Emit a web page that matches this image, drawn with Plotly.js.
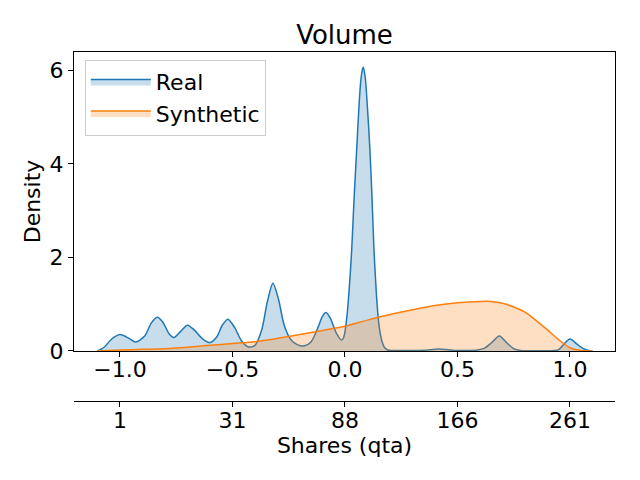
<!DOCTYPE html>
<html>
<head>
<meta charset="utf-8">
<script src="https://cdn.plot.ly/plotly-3.0.1.min.js"></script>
<style>html,body{margin:0;padding:0;background:#fff;}#chart{width:640px;height:480px;}</style>
</head>
<body>
<div id="chart"></div>
<script>
// Real KDE
const realX = [-1.10,-1.07,-1.04,-1.00,-0.96,-0.93,-0.89,-0.86,-0.834,-0.81,-0.78,-0.76,-0.73,-0.70,-0.67,-0.63,-0.60,-0.57,-0.545,-0.52,-0.49,-0.46,-0.43,-0.40,-0.37,-0.345,-0.32,-0.295,-0.27,-0.24,-0.21,-0.18,-0.15,-0.12,-0.10,-0.084,-0.065,-0.04,-0.015,-0.005,0.01,0.02,0.03,0.04,0.052,0.062,0.072,0.081,0.09,0.10,0.111,0.12,0.129,0.14,0.15,0.163,0.175,0.19,0.21,0.25,0.30,0.35,0.40,0.42,0.45,0.50,0.55,0.59,0.62,0.65,0.686,0.72,0.75,0.78,0.82,0.88,0.93,0.95,0.97,1.00,1.035,1.06,1.09,1.10];
const realY = [0.00,0.08,0.24,0.35,0.27,0.19,0.32,0.60,0.72,0.62,0.36,0.29,0.42,0.55,0.45,0.25,0.18,0.30,0.55,0.68,0.50,0.22,0.09,0.12,0.45,1.05,1.45,1.10,0.55,0.24,0.13,0.11,0.20,0.50,0.74,0.82,0.70,0.40,0.235,0.30,0.80,1.40,2.16,3.20,4.29,5.20,5.85,6.07,5.85,5.20,4.29,3.30,2.16,1.20,0.60,0.235,0.08,0.02,0.01,0.01,0.01,0.015,0.035,0.04,0.03,0.01,0.01,0.02,0.06,0.17,0.32,0.17,0.05,0.01,0.005,0.005,0.01,0.03,0.13,0.255,0.13,0.05,0.005,0.00];
// Synthetic KDE
const synX = [-1.10,-1.05,-1.00,-0.90,-0.80,-0.70,-0.60,-0.50,-0.40,-0.30,-0.20,-0.10,0.00,0.10,0.20,0.30,0.40,0.50,0.60,0.65,0.70,0.75,0.80,0.85,0.90,0.95,1.00,1.05,1.10];
const synY = [0.00,0.01,0.02,0.035,0.05,0.08,0.12,0.16,0.20,0.27,0.35,0.44,0.53,0.66,0.78,0.88,0.97,1.03,1.06,1.06,1.02,0.94,0.83,0.65,0.45,0.24,0.07,0.01,0.00];
// ticks
const xTickVals = [-1.0,-0.5,0.0,0.5,1.0];
const xTickText = ["\u22121.0","\u22120.5","0.0","0.5","1.0"];
const x2TickText = ["1","31","88","166","261"];
const yTickVals = [0,2,4,6];

const font = "DejaVu Sans, sans-serif";
const traces = [
  {x: realX, y: realY, type: 'scatter', mode: 'lines', name: 'Real', fill: 'tozeroy',
   line: {color: '#1f77b4', width: 1.5, shape: 'spline', smoothing: 0.8},
   fillcolor: 'rgba(31,119,180,0.25)', hoverinfo: 'skip'},
  {x: synX, y: synY, type: 'scatter', mode: 'lines', name: 'Synthetic', fill: 'tozeroy',
   line: {color: '#ff7f0e', width: 1.5, shape: 'spline', smoothing: 0.8},
   fillcolor: 'rgba(255,127,14,0.25)', hoverinfo: 'skip'},
  {x: [xTickVals[0], xTickVals[4]], y: [0, 0], xaxis: 'x2', type: 'scatter', mode: 'markers',
   marker: {opacity: 0}, showlegend: false, hoverinfo: 'skip'}
];
const layout = {
  width: 640, height: 480,
  margin: {l: 74, r: 25, t: 52, b: 79},
  paper_bgcolor: '#fff', plot_bgcolor: '#fff',
  font: {family: font, size: 22, color: '#000'},
  title: {text: 'Volume', font: {family: font, size: 26, color: '#000'}, x: 0.5, xref: 'paper', y: 0.927, yref: 'container', yanchor: 'middle'},
  showlegend: true,
  legend: {x: 0.02, y: 0.978, xanchor: 'left', yanchor: 'top', bgcolor: 'rgba(255,255,255,0.8)',
           bordercolor: '#cccccc', borderwidth: 1, font: {family: font, size: 22}, itemwidth: 60,
           tracegroupgap: 0},
  xaxis: {range: [-1.204, 1.2], anchor: 'y', showgrid: false, zeroline: false, showline: true, mirror: true,
          linecolor: '#000', linewidth: 1, ticks: 'outside', ticklen: 5, tickcolor: '#000',
          tickmode: 'array', tickvals: xTickVals, ticktext: xTickText, tickfont: {size: 22},
          ticklabelstandoff: -6},
  xaxis2: {range: [-1.204, 1.2], overlaying: 'x', anchor: 'free', position: 0, side: 'bottom',
           showgrid: false, zeroline: false, showline: true, linecolor: '#000', linewidth: 1,
           ticks: 'outside', ticklen: 5, tickcolor: '#000', tickmode: 'array', tickvals: xTickVals,
           ticktext: x2TickText, tickfont: {size: 22}, ticklabelstandoff: -5,
           title: {text: 'Shares (qta)', font: {size: 22}, standoff: 2}},
  yaxis: {domain: [0.1433, 1], range: [0, 6.39], showgrid: false, zeroline: false, showline: true, mirror: true,
          linecolor: '#000', linewidth: 1, ticks: 'outside', ticklen: 5, tickcolor: '#000',
          tickmode: 'array', tickvals: yTickVals, tickfont: {size: 22},
          title: {text: 'Density', font: {size: 22}, standoff: 2}}
};
Plotly.newPlot('chart', traces, layout, {displayModeBar: false, staticPlot: true});
</script>
</body>
</html>
